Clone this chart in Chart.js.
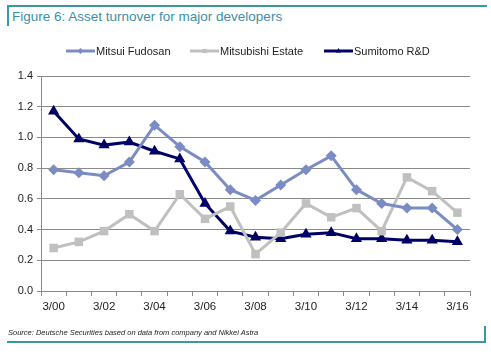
<!DOCTYPE html>
<html>
<head>
<meta charset="utf-8">
<script src="https://cdn.jsdelivr.net/npm/chart.js@4.4.1/dist/chart.umd.min.js"></script>
<style>
  html, body { margin: 0; padding: 0; background: #fff; }
  #wrap { position: relative; width: 491px; height: 354px; overflow: hidden; font-family: "Liberation Sans", Arial, sans-serif; }
  #topline { position: absolute; left: 7px; top: 5px; width: 480px; height: 2px; background: #3d97a3; }
  #leftbar { position: absolute; left: 7px; top: 5px; width: 2px; height: 21px; background: #3d97a3; }
  #title { position: absolute; left: 12px; top: 9px; font-size: 13.5px; color: #3d8fa6; }
  #source { position: absolute; left: 8px; top: 328px; font-size: 7.5px; font-style: italic; color: #222; }
  #botline { position: absolute; left: 7px; top: 341px; width: 479px; height: 2px; background: #3d97a3; }
  #rightbar { position: absolute; left: 484px; top: 326px; width: 2px; height: 17px; background: #3d97a3; }
  #chart { position: absolute; left: 0; top: 0; }
</style>
</head>
<body>
<div id="wrap">
  <div id="topline"></div><div id="leftbar"></div>
  <div id="title">Figure 6: Asset turnover for major developers</div>
  <canvas id="chart" width="491" height="354"></canvas>
  <div id="source">Source: Deutsche Securities based on data from company and Nikkei Astra</div>
  <div id="botline"></div><div id="rightbar"></div>
</div>
<script>
// 연도 라벨 (3월 결산)
const years = ["3/00", "3/01", "3/02", "3/03", "3/04", "3/05", "3/06", "3/07", "3/08",
               "3/09", "3/10", "3/11", "3/12", "3/13", "3/14", "3/15", "3/16"];
const mitsuiFudosan = [0.79, 0.77, 0.75, 0.84, 1.08, 0.94, 0.84, 0.66, 0.59,
                       0.69, 0.79, 0.88, 0.66, 0.57, 0.54, 0.54, 0.40];
const mitsubishiEstate = [0.28, 0.32, 0.39, 0.50, 0.39, 0.63, 0.47, 0.55, 0.24,
                          0.38, 0.57, 0.48, 0.54, 0.39, 0.74, 0.65, 0.51];
const sumitomoRD = [1.17, 0.99, 0.95, 0.97, 0.91, 0.86, 0.57, 0.39, 0.35,
                    0.34, 0.37, 0.38, 0.34, 0.34, 0.33, 0.33, 0.32];
const yTicks = [0, 0.2, 0.4, 0.6, 0.8, 1.0, 1.2, 1.4];

const COL = { mitsui: "#7b8cc4", mitsubishi: "#c0c0c0", sumitomo: "#000066", grid: "#8a8a8a", text: "#222" };
const FONT = "'Liberation Sans', Arial, sans-serif";

// 범례: 선 + 마커 샘플을 직접 그림
const legendPlugin = {
  id: "lineLegend",
  afterDraw(chart) {
    const ctx = chart.ctx;
    const xs = [66, 190, 324];
    const y = 51;
    ctx.save();
    ctx.font = "11px " + FONT;
    ctx.textBaseline = "middle";
    chart.data.datasets.forEach((ds, i) => {
      const x0 = xs[i], len = 29;
      ctx.strokeStyle = ds.borderColor;
      ctx.lineWidth = 3;
      ctx.beginPath(); ctx.moveTo(x0, y); ctx.lineTo(x0 + len, y); ctx.stroke();
      ctx.fillStyle = ds.borderColor;
      Chart.helpers.drawPoint(ctx, { pointStyle: ds.pointStyle, radius: 3, borderWidth: 0 }, x0 + len / 2, y);
      ctx.fillStyle = COL.text;
      ctx.fillText(ds.label, x0 + len + 1, y + 1);
    });
    ctx.restore();
  },
};

new Chart(document.getElementById("chart"), {
  type: "line",
  data: {
    labels: years,
    datasets: [
      { label: "Mitsui Fudosan", data: mitsuiFudosan, borderColor: COL.mitsui, backgroundColor: COL.mitsui,
        borderWidth: 3, pointStyle: "rectRot", pointRadius: 5.5, pointBorderWidth: 0, tension: 0 },
      { label: "Mitsubishi Estate", data: mitsubishiEstate, borderColor: COL.mitsubishi, backgroundColor: COL.mitsubishi,
        borderWidth: 3, pointStyle: "rect", pointRadius: 6, pointBorderWidth: 0, tension: 0 },
      { label: "Sumitomo R&D", data: sumitomoRD, borderColor: COL.sumitomo, backgroundColor: COL.sumitomo,
        borderWidth: 3, pointStyle: "triangle", pointRadius: 6.5, pointBorderWidth: 0, tension: 0 },
    ],
  },
  options: {
    responsive: false, animation: false,
    layout: { padding: { top: 76, right: 21, left: 0, bottom: 0 } },
    plugins: { legend: { display: false }, tooltip: { enabled: false } },
    scales: {
      x: {
        offset: true,
        grid: { display: true, drawOnChartArea: false, offset: true, color: COL.grid, tickLength: 5 },
        border: { color: COL.grid, width: 1 },
        ticks: {
          autoSkip: false, maxRotation: 0, padding: 4, color: COL.text, font: { family: FONT, size: 11.5 },
          callback: (v, i) => (i % 2 === 0 ? years[i] : ""),
        },
        afterFit: (s) => { s.height = 63; },
      },
      y: {
        min: 0, max: 1.4,
        afterBuildTicks: (s) => { s.ticks = yTicks.map((v) => ({ value: v })); },
        grid: { color: COL.grid, tickLength: 4 },
        border: { color: COL.grid, width: 1 },
        ticks: { color: COL.text, padding: 4, font: { family: FONT, size: 11 }, callback: (v) => v.toFixed(1) },
        afterFit: (s) => { s.width = 41; },
      },
    },
  },
  plugins: [legendPlugin],
});
</script>
</body>
</html>
